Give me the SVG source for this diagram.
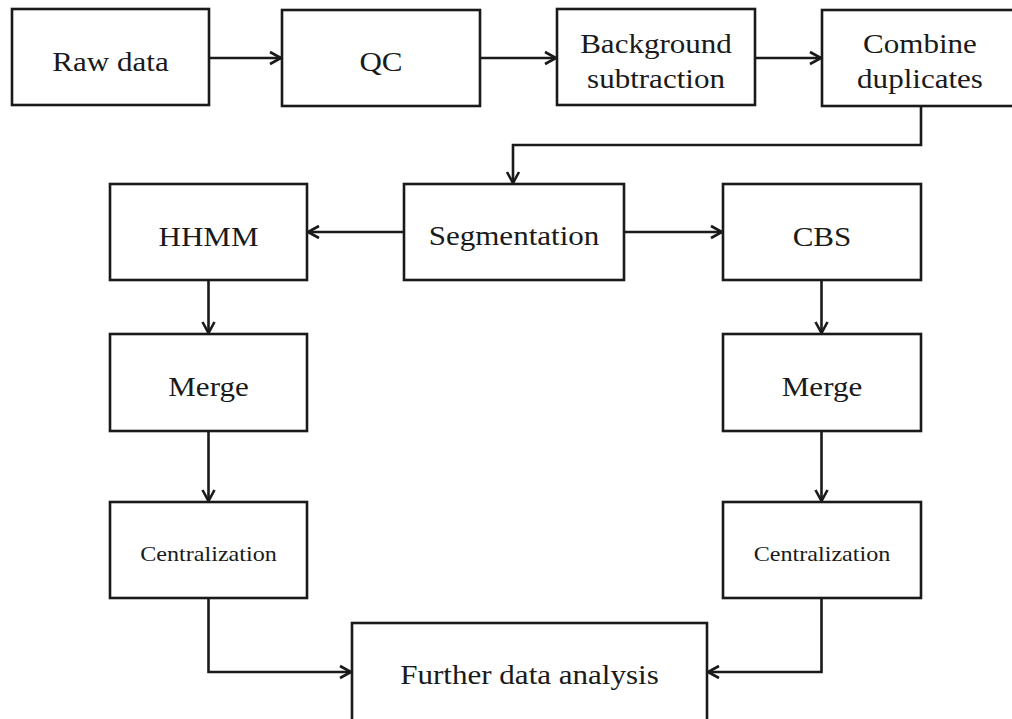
<svg xmlns="http://www.w3.org/2000/svg" width="1012" height="719" viewBox="0 0 1012 719">
<style>
.box{fill:#fff;stroke:#1a1a1a;stroke-width:2.6}
.t{font-family:"Liberation Serif","Times New Roman",serif;font-size:27px;fill:#1a1a1a;text-anchor:middle}
.s{font-size:21px}
.c{fill:none;stroke:#1a1a1a;stroke-width:2.6}
</style>
<defs>
<marker id="ah" markerUnits="userSpaceOnUse" markerWidth="14" markerHeight="16" refX="12" refY="7" orient="auto" overflow="visible">
<path d="M1,1 L12,7 L1,13" fill="none" stroke="#1a1a1a" stroke-width="2.6"/>
</marker>
</defs>
<rect width="1012" height="719" fill="#fff"/>
<g id="connectors">
<path class="c" d="M209,58 H281" marker-end="url(#ah)"/>
<path class="c" d="M480,58 H556" marker-end="url(#ah)"/>
<path class="c" d="M755,58 H821" marker-end="url(#ah)"/>
<path class="c" d="M921,106 V145 H513 V183" marker-end="url(#ah)"/>
<path class="c" d="M404,232 H308" marker-end="url(#ah)"/>
<path class="c" d="M624,232 H722" marker-end="url(#ah)"/>
<path class="c" d="M208.5,280 V333" marker-end="url(#ah)"/>
<path class="c" d="M821.5,280 V333" marker-end="url(#ah)"/>
<path class="c" d="M208.5,431 V501" marker-end="url(#ah)"/>
<path class="c" d="M821.5,431 V501" marker-end="url(#ah)"/>
<path class="c" d="M208.5,598 V672 H351" marker-end="url(#ah)"/>
<path class="c" d="M821.5,598 V672 H708" marker-end="url(#ah)"/>
</g>
<g id="raw"><rect class="box" x="12" y="9" width="197" height="96"/><text class="t" transform="translate(110.5,71) scale(1.15,1)">Raw data</text></g>
<g id="qc"><rect class="box" x="282" y="10" width="198" height="96"/><text class="t" transform="translate(381,71) scale(1.15,1)">QC</text></g>
<g id="bg"><rect class="box" x="557" y="9" width="198" height="96"/><text class="t" transform="translate(656,53) scale(1.15,1)">Background</text><text class="t" transform="translate(656,88) scale(1.15,1)">subtraction</text></g>
<g id="combine"><rect class="box" x="822" y="10" width="200" height="96"/><text class="t" transform="translate(920,53) scale(1.15,1)">Combine</text><text class="t" transform="translate(920,88) scale(1.15,1)">duplicates</text></g>
<g id="seg"><rect class="box" x="404" y="184" width="220" height="96"/><text class="t" transform="translate(514,245) scale(1.15,1)">Segmentation</text></g>
<g id="hhmm"><rect class="box" x="110" y="184" width="197" height="96"/><text class="t" transform="translate(208.5,246) scale(1.15,1)">HHMM</text></g>
<g id="cbs"><rect class="box" x="723" y="184" width="198" height="96"/><text class="t" transform="translate(822,246) scale(1.15,1)">CBS</text></g>
<g id="merge1"><rect class="box" x="110" y="334" width="197" height="97"/><text class="t" transform="translate(208.5,396) scale(1.15,1)">Merge</text></g>
<g id="merge2"><rect class="box" x="723" y="334" width="198" height="97"/><text class="t" transform="translate(822,396) scale(1.15,1)">Merge</text></g>
<g id="cent1"><rect class="box" x="110" y="502" width="197" height="96"/><text class="t s" transform="translate(208.5,561) scale(1.15,1)">Centralization</text></g>
<g id="cent2"><rect class="box" x="723" y="502" width="198" height="96"/><text class="t s" transform="translate(822,561) scale(1.15,1)">Centralization</text></g>
<g id="further"><rect class="box" x="352" y="623" width="355" height="110"/><text class="t" transform="translate(529.5,684) scale(1.15,1)">Further data analysis</text></g>
</svg>
